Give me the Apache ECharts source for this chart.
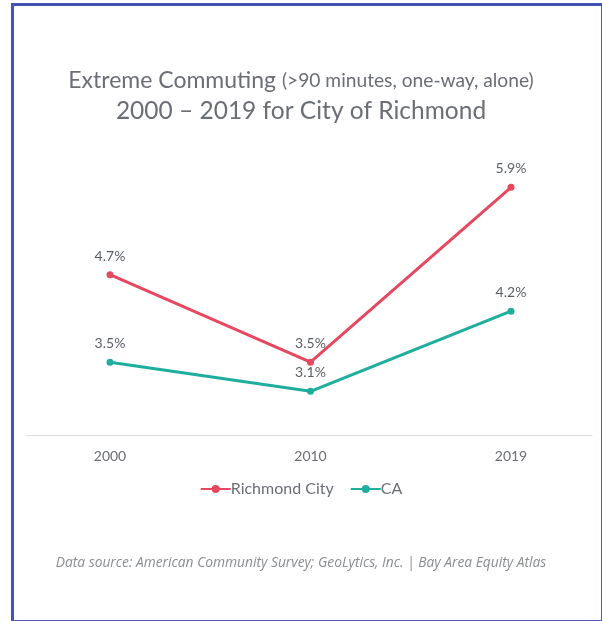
<!DOCTYPE html>
<html><head><meta charset="utf-8">
<script src="https://cdn.jsdelivr.net/npm/echarts@6/dist/echarts.min.js"></script>
<style>
html,body{margin:0;padding:0;background:#fff;}
#c{width:602px;height:621px;position:absolute;left:0;top:0;}
#b{position:absolute;left:11px;top:3px;width:587px;height:614px;border-left:3px solid #4254b8;border-top:3px solid #4254b8;border-right:2px solid #4f5fc0;border-bottom:2px solid #4f5fc0;pointer-events:none;}
</style></head>
<body><div id="c"></div><div id="b"></div>
<script>
const years = ['2000', '2010', '2019'];
const richmond = [4.7, 3.5, 5.9];
const ca = [3.5, 3.1, 4.2];
const seriesNames = ['Richmond City', 'CA'];

const chart = echarts.init(document.getElementById('c'));
const lbl = {show:true, position:'top', distance:8, formatter: p => p.value.toFixed(1) + '%', color:'#5a5e66', fontFamily:'Lato', fontSize:14};
chart.setOption({
  animation:false,
  backgroundColor:'#fff',
  title:{
    left:'center', top:61,
    text:'{a|Extreme Commuting }{b|(>90 minutes, one-way, alone)}\n{c|2000 – 2019 for City of Richmond}',
    textStyle:{fontWeight:'normal', rich:{
      a:{fontFamily:'Lato', fontSize:23, fontWeight:'normal', color:'#6b6e75', lineHeight:30},
      b:{fontFamily:'Lato', fontSize:19.2, fontWeight:'normal', color:'#6b6e75', lineHeight:30},
      c:{fontFamily:'Lato', fontSize:24.5, fontWeight:'normal', color:'#6b6e75', lineHeight:30}
    }}
  },
  legend:{
    data:seriesNames, bottom:119, left:'center', itemWidth:30, itemHeight:10, itemGap:16,
    textStyle:{fontFamily:'Lato', fontSize:16, color:'#6b6e75', padding:[0,0,0,-5]}
  },
  grid:[
    {left:110, right:91, top:180, bottom:186},
    {left:27, right:10, top:180, bottom:186}
  ],
  xAxis:[
    {type:'category', data:years, boundaryGap:false, gridIndex:0,
     axisLine:{show:false}, axisTick:{show:false},
     axisLabel:{color:'#6b6e75', fontFamily:'Lato', fontSize:14, margin:14}},
    {type:'category', data:[''], gridIndex:1,
     axisLine:{show:true, lineStyle:{color:'#dcdcdc', width:1}}, axisTick:{show:false}, axisLabel:{show:false}}
  ],
  yAxis:[
    {type:'value', min:2.5, max:6, gridIndex:0, show:false, splitLine:{show:false}},
    {type:'value', min:0, max:1, gridIndex:1, show:false, splitLine:{show:false}}
  ],
  graphic:[{
    type:'text', left:'center', top:556,
    style:{text:'Data source: American Community Survey; GeoLytics, Inc. | Bay Area Equity Atlas',
      font:'italic 13.8px "Open Sans"', fill:'#8a8d93'}
  }],
  series:[
    {name:seriesNames[0], type:'line', data:richmond, xAxisIndex:0, yAxisIndex:0,
     symbol:'circle', symbolSize:7, color:'#e5485f', lineStyle:{width:3}, label:lbl},
    {name:seriesNames[1], type:'line', data:ca, xAxisIndex:0, yAxisIndex:0,
     symbol:'circle', symbolSize:7, color:'#1fae9e', lineStyle:{width:3}, label:lbl}
  ]
});
</script></body></html>
